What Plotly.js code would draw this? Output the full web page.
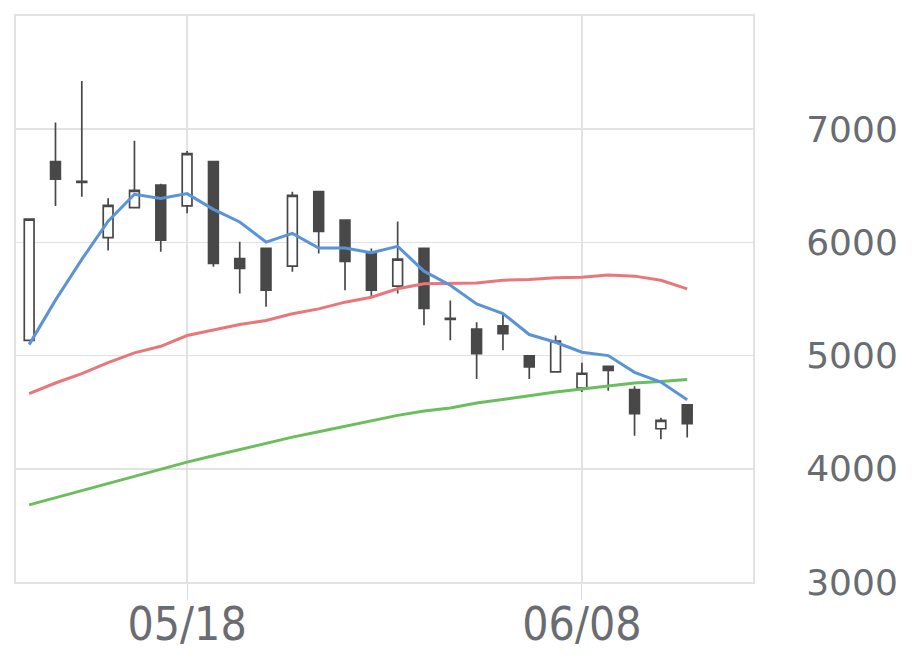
<!DOCTYPE html>
<html>
<head>
<meta charset="utf-8">
<script src="https://cdn.plot.ly/plotly-3.0.1.min.js"></script>
<style>html,body{margin:0;padding:0;background:#fff;}#chart{width:920px;height:669px;}</style>
</head>
<body>
<div id="chart"></div>
<script>
const dates = ["05/10","05/11","05/12","05/15","05/16","05/17","05/18","05/19","05/22","05/23","05/24","05/25","05/26","05/29","05/30","05/31","06/01","06/02","06/05","06/06","06/07","06/08","06/09","06/12","06/13","06/14"];
const openV  = [5135,6714,6540,6042,6307,6507,6322,6714,5856,5947,5790,6448,6198,5903,5613,5947,5330,5233,5262,4997,4856,4714,4906,4699,4354,4566];
const highV  = [6206,7059,7425,6389,6897,6519,6808,6714,6006,5947,6448,6448,6198,5947,6184,5947,5487,5295,5363,4997,5177,4936,4906,4729,4451,4566];
const lowV   = [5130,6321,6404,5929,6300,5918,6257,5785,5549,5431,5740,5903,5578,5525,5549,5268,5135,4794,5047,4794,4856,4679,4690,4292,4262,4277];
const closeV = [6206,6558,6530,6327,6460,6020,6785,5814,5770,5578,6416,6097,5832,5578,5852,5416,5320,5018,5195,4900,5128,4844,4870,4487,4427,4398];
const ma5  = [5097,5490,5850,6188,6425,6387,6431,6292,6180,6003,6080,5950,5950,5909,5965,5746,5622,5456,5372,5186,5118,5030,5000,4852,4767,4611];
const ma25 = [4664,4758,4841,4938,5024,5082,5177,5224,5274,5310,5369,5413,5472,5516,5590,5634,5640,5642,5666,5673,5688,5693,5711,5702,5666,5590];
const ma75 = [3681,3745,3808,3870,3935,3998,4059,4115,4170,4221,4280,4327,4375,4425,4472,4510,4537,4581,4615,4645,4678,4705,4734,4758,4772,4788];
const xTicks = ["05/18","06/08"];
const yTicks = [3000,4000,5000,6000,7000];

const dark = '#484848';
const traces = [
  {type:'candlestick', x:dates, open:openV, high:highV, low:lowV, close:closeV,
   increasing:{line:{color:dark,width:1.7}, fillcolor:'#ffffff'},
   decreasing:{line:{color:dark,width:1.7}, fillcolor:dark},
   whiskerwidth:0, showlegend:false, hoverinfo:'skip'},
  {type:'scatter', mode:'lines', x:dates, y:ma75, line:{color:'#6abf5c',width:3}, showlegend:false},
  {type:'scatter', mode:'lines', x:dates, y:ma25, line:{color:'#e97678',width:3}, showlegend:false},
  {type:'scatter', mode:'lines', x:dates, y:ma5, line:{color:'#5b94d6',width:3}, showlegend:false}
];
const layout = {
  width:920, height:669,
  margin:{l:16, r:167, t:16, b:87},
  paper_bgcolor:'#ffffff', plot_bgcolor:'#ffffff',
  showlegend:false,
  boxgap:0.47,
  xaxis:{type:'category', range:[-0.5,27.5], rangeslider:{visible:false},
    tickmode:'array', tickvals:xTicks, ticktext:xTicks,
    showgrid:true, gridcolor:'#e2e2e2', gridwidth:1.5,
    ticks:'outside', ticklen:16, tickcolor:'#d3dcea', tickwidth:1,
    ticklabelstandoff:-15,
    showline:true, mirror:true, linecolor:'#e2e2e2', linewidth:2,
    tickfont:{family:'DejaVu Sans Condensed, DejaVu Sans', size:46, color:'#696c70'},
    zeroline:false, fixedrange:true},
  yaxis:{side:'right', range:[3000,8000], tickmode:'array', tickvals:yTicks,
    showgrid:true, gridcolor:'#e2e2e2', gridwidth:1.5,
    ticks:'', ticklabelstandoff:44,
    showline:true, mirror:true, linecolor:'#e2e2e2', linewidth:2,
    tickfont:{family:'DejaVu Sans', size:36, color:'#696c70'},
    zeroline:false, fixedrange:true}
};
Plotly.newPlot('chart', traces, layout, {staticPlot:true, displayModeBar:false});
</script>
</body>
</html>
